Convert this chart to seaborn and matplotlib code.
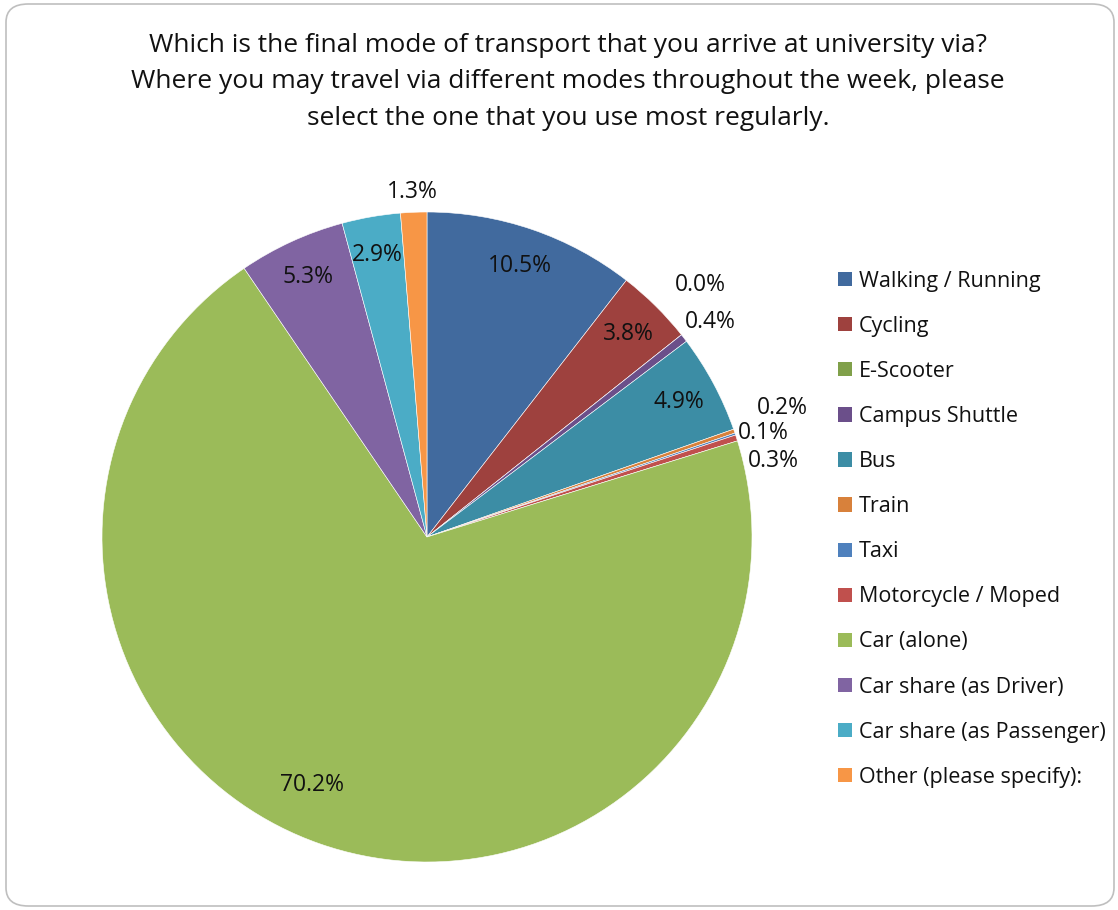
import numpy as np
import matplotlib
matplotlib.use("Agg")
import matplotlib.pyplot as plt
from matplotlib.patches import FancyBboxPatch, Patch
import seaborn as sns

# Survey responses: final mode of transport to university (% of respondents)
modes = [
    "Walking / Running", "Cycling", "E-Scooter", "Campus Shuttle", "Bus",
    "Train", "Taxi", "Motorcycle / Moped", "Car (alone)",
    "Car share (as Driver)", "Car share (as Passenger)", "Other (please specify):",
]
shares = [10.5, 3.8, 0.0, 0.4, 4.9, 0.2, 0.1, 0.3, 70.2, 5.3, 2.9, 1.3]

title_lines = [
    "Which is the final mode of transport that you arrive at university via?",
    "Where you may travel via different modes throughout the week, please",
    "select the one that you use most regularly.",
]

slice_colors = [
    "#416A9E", "#9E413E", "#80A04A", "#6B4F8A", "#3C8DA5", "#D8813B",
    "#4F81BD", "#C0504D", "#9BBB59", "#8064A2", "#4BACC6", "#F79646",
]

sns.set_theme(style="white")
plt.rcParams["font.family"] = ["Open Sans", "DejaVu Sans"]

W, H = 1118, 910
fig = plt.figure(figsize=(W / 100, H / 100), dpi=100)

# rounded chart frame, kept behind everything else
frame = FancyBboxPatch((6 / W, 4 / H), (W - 10) / W, (H - 8) / H,
                       boxstyle="round,pad=0,rounding_size=0.02",
                       transform=fig.transFigure, facecolor="white",
                       edgecolor="#BFBFBF", linewidth=1.2, zorder=-10)
fig.patches.append(frame)

# pie area: centre (427, 537) px, radius 325 px
cx, cy, r = 427, 537, 325
ax = fig.add_axes([(cx - r) / W, (H - cy - r) / H, 2 * r / W, 2 * r / H])
ax.set_zorder(5)
ax.patch.set_alpha(0)

wedges, _ = ax.pie(shares, colors=slice_colors, startangle=90,
                   counterclock=False, radius=1.0,
                   wedgeprops=dict(linewidth=0.4, edgecolor="white"))
ax.set_xlim(-1, 1)
ax.set_ylim(-1, 1)
ax.axis("off")

label_fs = 16.5
# small slices get their labels placed outside the pie
outside_pos = {
    2: (0.840, 0.775), 3: (0.871, 0.662), 5: (1.092, 0.397),
    6: (1.034, 0.320), 7: (1.065, 0.234), 11: (-0.046, 1.062),
}
inside_pos = {8: (-0.354, -0.763)}

total = sum(shares)
cum = 0.0
for i, v in enumerate(shares):
    mid = cum + v / 2
    cum += v
    ang = np.deg2rad(90 - 360 * mid / total)
    if i in outside_pos:
        x, y = outside_pos[i]
    elif i in inside_pos:
        x, y = inside_pos[i]
    else:
        x, y = 0.88 * np.cos(ang), 0.88 * np.sin(ang)
    ax.text(x, y, f"{v:.1f}%", ha="center", va="center",
            fontsize=label_fs, color="#111111", clip_on=False)

# title
fig.text(568 / W, 1 - 82 / H, "\n".join(title_lines), ha="center",
         va="center", fontsize=19, color="#111111", linespacing=1.59)

handles = [Patch(facecolor=c, edgecolor="none") for c in slice_colors]
fig.legend(handles, modes, loc="upper left",
           bbox_to_anchor=(829 / W, 1 - 262 / H), frameon=False,
           fontsize=15.5, handlelength=0.65, handleheight=0.65,
           handletextpad=0.35, labelspacing=1.12, borderaxespad=0,
           labelcolor="#111111")

fig.savefig("out.png", dpi=100)
